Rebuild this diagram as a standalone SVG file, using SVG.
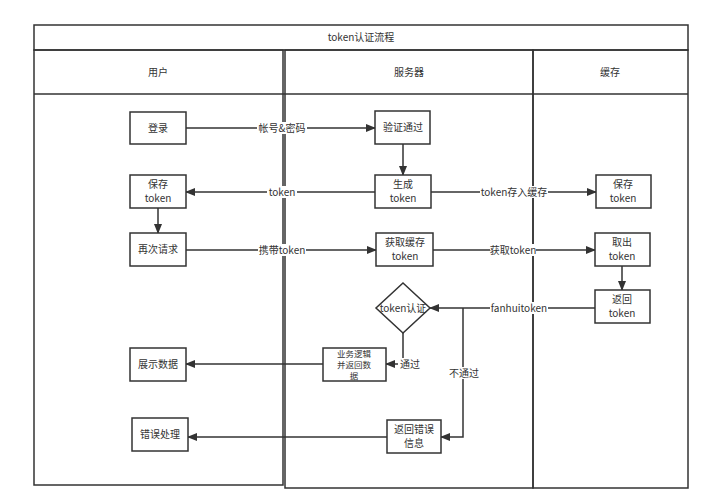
<svg xmlns="http://www.w3.org/2000/svg" width="706" height="500" viewBox="0 0 706 500">
<defs><marker id="a" markerWidth="10" markerHeight="10" refX="9" refY="5" orient="auto" markerUnits="userSpaceOnUse"><path d="M0,1 L10,5 L0,9 Z" fill="#333"/></marker></defs>
<style>
text{font-family:"Noto Sans CJK SC","Noto Sans",sans-serif;font-size:10px;fill:#333;text-anchor:middle}
.s{font-size:8.5px}
.n{fill:#fff;stroke:#333;stroke-width:1.5}
.l{fill:none;stroke:#333;stroke-width:1.5}
.e{fill:none;stroke:#333;stroke-width:1.5;marker-end:url(#a)}
.bg{fill:#fff}
</style>
<rect width="706" height="500" fill="#fff"/>
<g id="lanes" class="l">
<rect x="34" y="25" width="654" height="25"/>
<rect x="34" y="50" width="249" height="435"/>
<rect x="285" y="50" width="248" height="438"/>
<rect x="533" y="50" width="155" height="438"/>
<line x1="34" y1="94" x2="688" y2="94"/>
</g>
<g id="headers">
<text x="361" y="41">token认证流程</text>
<text x="158" y="76">用户</text>
<text x="409" y="76">服务器</text>
<text x="610" y="76">缓存</text>
</g>
<g id="edges">
<path class="e" d="M186,128 H375"/>
<path class="e" d="M403,144 V175"/>
<path class="e" d="M375,192 H186"/>
<path class="e" d="M431,192 H596"/>
<path class="e" d="M158,208 V233"/>
<path class="e" d="M186,250 H376"/>
<path class="e" d="M433,250 H595"/>
<path class="e" d="M622,266 V290"/>
<path class="e" d="M595,308 H430"/>
<path class="e" d="M463,308 V437 H441"/>
<path class="e" d="M403,333 V364 H386"/>
<path class="e" d="M323,364 H186"/>
<path class="e" d="M387,437 H188"/>
<g class="bg"><rect x="257" y="122" width="50" height="12"/><rect x="267" y="186" width="30" height="12"/><rect x="480" y="186" width="68" height="12"/><rect x="258" y="244" width="48" height="12"/><rect x="490" y="244" width="46" height="12"/><rect x="490" y="302" width="58" height="12"/><rect x="448" y="367" width="32" height="12"/><rect x="398" y="358" width="24" height="12"/></g>
<text x="282" y="132">帐号&amp;密码</text>
<text x="282" y="196">token</text>
<text x="514" y="196">token存入缓存</text>
<text x="282" y="254">携带token</text>
<text x="513" y="254">获取token</text>
<text x="519" y="312">fanhuitoken</text>
<text x="464" y="377">不通过</text>
<text x="410" y="368">通过</text>
</g>
<g id="n1"><rect class="n" x="130" y="112" width="56" height="32"/><text x="158" y="132">登录</text></g>
<g id="n2"><rect class="n" x="375" y="111" width="55" height="33"/><text x="403" y="131">验证通过</text></g>
<g id="n3"><rect class="n" x="130" y="175" width="56" height="33"/><text x="158" y="188">保存</text><text x="158" y="202">token</text></g>
<g id="n4"><rect class="n" x="375" y="175" width="56" height="33"/><text x="403" y="188">生成</text><text x="403" y="202">token</text></g>
<g id="n5"><rect class="n" x="596" y="175" width="55" height="33"/><text x="623" y="188">保存</text><text x="623" y="202">token</text></g>
<g id="n6"><rect class="n" x="130" y="233" width="56" height="33"/><text x="158" y="253">再次请求</text></g>
<g id="n7"><rect class="n" x="376" y="233" width="57" height="33"/><text x="405" y="246">获取缓存</text><text x="405" y="260">token</text></g>
<g id="n8"><rect class="n" x="595" y="233" width="55" height="33"/><text x="622" y="246">取出</text><text x="622" y="260">token</text></g>
<g id="n9"><rect class="n" x="595" y="290" width="55" height="33"/><text x="622" y="303">返回</text><text x="622" y="317">token</text></g>
<g id="n10"><path class="n" d="M403,283 L430,308 L403,333 L376,308 Z"/><text x="403" y="312">token认证</text></g>
<g id="n11"><rect class="n" x="323" y="348" width="63" height="33"/><text class="s" x="354" y="357">业务逻辑</text><text class="s" x="354" y="368">并返回数</text><text class="s" x="354" y="379">据</text></g>
<g id="n12"><rect class="n" x="130" y="348" width="56" height="33"/><text x="158" y="368">展示数据</text></g>
<g id="n13"><rect class="n" x="132" y="418" width="56" height="33"/><text x="160" y="438">错误处理</text></g>
<g id="n14"><rect class="n" x="387" y="420" width="54" height="33"/><text x="414" y="433">返回错误</text><text x="414" y="447">信息</text></g>
</svg>
